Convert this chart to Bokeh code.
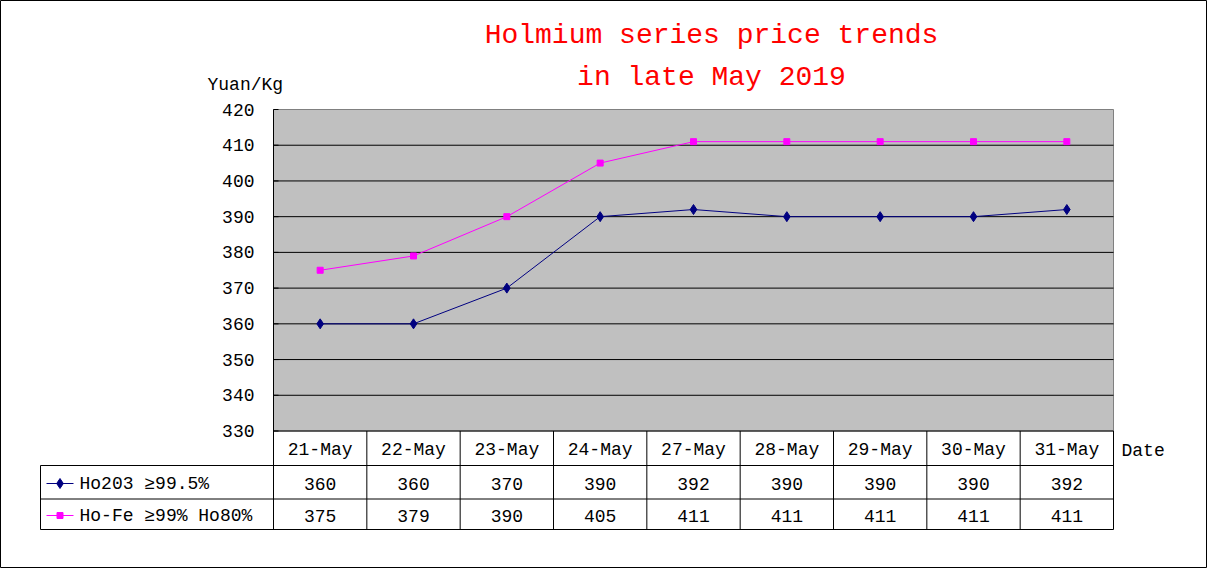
from bokeh.plotting import figure
from bokeh.models import Range1d, ColumnDataSource
from bokeh.core.properties import value
from bokeh.embed import file_html
from bokeh.resources import INLINE

# ---------------- data ----------------
dates = ["21-May", "22-May", "23-May", "24-May", "27-May",
         "28-May", "29-May", "30-May", "31-May"]
ho2o3 = [360, 360, 370, 390, 392, 390, 390, 390, 392]
hofe = [375, 379, 390, 405, 411, 411, 411, 411, 411]
series_names = ["Ho203 \u226599.5%", "Ho-Fe \u226599% Ho80%"]
y_ticks = [330, 340, 350, 360, 370, 380, 390, 400, 410, 420]
title_lines = ["Holmium series price trends", "in late May 2019"]
y_unit = "Yuan/Kg"
x_unit = "Date"

# ---------------- layout (pixels) ----------------
W, H = 1207, 568
PX_LEFT, PX_RIGHT = 273, 1113
PX_TOP, PX_BOTTOM = 109, 430.5
TABLE_LEFT = 40
ROW_LINES = [465, 498.5, 529]
FONT = value("Liberation Mono")
navy = "#000080"
magenta = "#FF00FF"

ncat = len(dates)
ymin, ymax = y_ticks[0], y_ticks[-1]
col_w = (PX_RIGHT - PX_LEFT) / ncat
ppu = (PX_BOTTOM - PX_TOP) / (ymax - ymin)


def xd(px):
    return (px - PX_LEFT) / col_w


def yd(py):
    return ymax - (py - PX_TOP) / ppu


p = figure(width=W, height=H,
           x_range=Range1d(xd(0), xd(W)), y_range=Range1d(yd(H), yd(0)),
           x_axis_type=None, y_axis_type=None,
           toolbar_location=None, output_backend="svg", min_border=0)
p.outline_line_color = "black"
p.outline_line_width = 1
p.background_fill_color = "white"
p.border_fill_color = "white"

# plot area
p.quad(left=0, right=ncat, bottom=ymin, top=ymax,
       fill_color="#C0C0C0", line_color="#808080", line_width=1)
# gridlines
grid_vals = y_ticks[1:-1]
p.segment(x0=[0] * len(grid_vals), x1=[ncat] * len(grid_vals),
          y0=grid_vals, y1=grid_vals, line_color="black", line_width=1)
# value axis line + inner ticks
p.segment(x0=[0], x1=[0], y0=[ymin], y1=[ymax], line_color="black", line_width=1)
p.segment(x0=[0] * len(y_ticks), x1=[xd(PX_LEFT + 5)] * len(y_ticks),
          y0=y_ticks, y1=y_ticks, line_color="black", line_width=1)

# tick labels
p.text(x=[0] * len(y_ticks), y=y_ticks, text=[str(t) for t in y_ticks],
       x_offset=-19, text_align="right", text_baseline="middle",
       text_font=FONT, text_font_size="18px", text_color="black")

# series
xs = [i + 0.5 for i in range(ncat)]
src = ColumnDataSource(dict(x=xs, a=ho2o3, b=hofe))
p.line("x", "b", source=src, line_color=magenta, line_width=1)
p.scatter("x", "b", source=src, marker="square", size=6,
          fill_color=magenta, line_color=magenta)
p.line("x", "a", source=src, line_color=navy, line_width=1)
p.scatter("x", "a", source=src, marker="diamond", size=10,
          fill_color=navy, line_color=navy)

# ---------------- data table ----------------
table_bottom = yd(ROW_LINES[-1])
# horizontal lines
p.segment(x0=[xd(TABLE_LEFT)] * 3, x1=[ncat] * 3,
          y0=[yd(r) for r in ROW_LINES], y1=[yd(r) for r in ROW_LINES],
          line_color="black", line_width=1)
p.segment(x0=[0], x1=[ncat], y0=[ymin], y1=[ymin], line_color="black", line_width=1)
# vertical lines
p.segment(x0=list(range(ncat + 1)), x1=list(range(ncat + 1)),
          y0=[ymin] * (ncat + 1), y1=[table_bottom] * (ncat + 1),
          line_color="black", line_width=1)
p.segment(x0=[xd(TABLE_LEFT)], x1=[xd(TABLE_LEFT)],
          y0=[yd(ROW_LINES[0])], y1=[table_bottom], line_color="black", line_width=1)

row_y = [yd(449), yd(483), yd(515)]
p.text(x=xs, y=[row_y[0]] * ncat, text=dates, text_align="center",
       text_baseline="middle", text_font=FONT, text_font_size="18px", text_color="black")
p.text(x=xs, y=[row_y[1]] * ncat, text=[str(v) for v in ho2o3], text_align="center",
       text_baseline="middle", text_font=FONT, text_font_size="18px", text_color="black")
p.text(x=xs, y=[row_y[2]] * ncat, text=[str(v) for v in hofe], text_align="center",
       text_baseline="middle", text_font=FONT, text_font_size="18px", text_color="black")

# legend keys in the table
for ry, col, mk, sz in [(row_y[1], navy, "diamond", 10), (row_y[2], magenta, "square", 6)]:
    p.segment(x0=[xd(46)], x1=[xd(73)], y0=[ry], y1=[ry], line_color=col, line_width=1)
    p.scatter(x=[xd(59.5)], y=[ry], marker=mk, size=sz, fill_color=col, line_color=col)
p.text(x=[xd(79)] * 2, y=row_y[1:], text=series_names, text_align="left",
       text_baseline="middle", text_font=FONT, text_font_size="18px", text_color="black")

# axis unit labels
p.text(x=[xd(207)], y=[yd(84)], text=[y_unit], text_align="left", text_baseline="middle",
       text_font=FONT, text_font_size="18px", text_color="black")
p.text(x=[xd(1121)], y=[yd(450)], text=[x_unit], text_align="left", text_baseline="middle",
       text_font=FONT, text_font_size="18px", text_color="black")

# title
p.text(x=[xd(711)] * 2, y=[yd(35), yd(77)], text=title_lines, text_align="center",
       text_baseline="middle", text_font=FONT, text_font_size="28px", text_color="#FF0000")

open("out.html", "w").write(file_html(p, INLINE))
